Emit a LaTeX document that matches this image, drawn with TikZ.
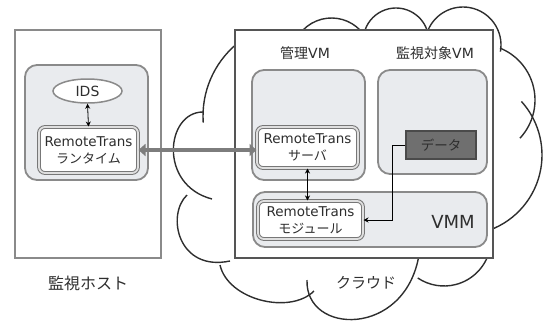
\documentclass[tikz,border=0pt]{standalone}
\usepackage{fontspec}
\setmainfont{DejaVu Sans}
\newfontfamily\jp{Noto Sans CJK JP}
\usetikzlibrary{arrows.meta,shapes.geometric,calc}
\definecolor{txt}{HTML}{2E2E2E}
\definecolor{cloudline}{HTML}{2E2E2E}
\definecolor{vmfill}{HTML}{E9EBEE}
\definecolor{vmline}{HTML}{8A8A8A}
\definecolor{modline}{HTML}{777777}
\definecolor{rectline}{HTML}{555555}
\definecolor{hostline}{HTML}{8A8A8A}
\definecolor{datafill}{HTML}{6F6F6F}
\definecolor{dataline}{HTML}{4A4A4A}
\definecolor{arrowgray}{HTML}{7D7D7D}
\newcommand\cbump[4]{\draw[cloudarc] (#1) ++(#2:#4) arc[start angle=#2, end angle=#3, radius=#4];}
\newcommand\jpbox[1]{{\jp\fontsize{13}{17}\selectfont #1}}
\begin{document}
\begin{tikzpicture}[x=1pt,y=-1pt,
  cloudarc/.style={draw=cloudline,line width=1.4pt},
  hostrect/.style={draw=hostline,line width=1.8pt,fill=white,inner sep=0pt},
  cloudrect/.style={draw=rectline,line width=2.4pt,fill=white,inner sep=0pt},
  vmbox/.style={draw=vmline,line width=1.8pt,fill=vmfill,rounded corners=12pt,inner sep=0pt},
  modbox/.style={draw=modline,line width=1pt,double=gray!25,double distance=1.8pt,fill=white,rounded corners=6pt,
    text=txt,align=center,inner sep=0pt,font=\fontsize{13.5}{17}\selectfont},
  idsnode/.style={ellipse,draw=vmline,line width=1.5pt,fill=white,inner sep=0pt,text=txt,font=\fontsize{14}{16}\selectfont},
  datanode/.style={draw=dataline,line width=1.2pt,fill=datafill,inner sep=0pt,text=txt,font=\jp\fontsize{13.5}{15}\selectfont},
  lbl/.style={text=txt,inner sep=0pt},
  dblarrow/.style={draw=black,line width=0.8pt,{Stealth[length=5pt,width=5pt]}-{Stealth[length=5pt,width=5pt]}},
  onearrow/.style={draw=black,line width=0.8pt,-{Stealth[length=5pt,width=5pt]}},
  bigarrow/.style={draw=arrowgray,line width=4.5pt,{Triangle[length=7pt,width=12pt]}-{Triangle[length=7pt,width=12pt]}}
]
\useasboundingbox (0,0) rectangle (543,325);

% cloud outline
\cbump{331.5,57.8}{-44}{-136}{39.8}
\cbump{396,40.8}{-19}{-161}{32.8}
\cbump{463,45}{10}{-157}{38}
\cbump{479,100}{43}{-68}{56}
\cbump{462,155}{70}{-42}{80}
\cbump{444,239}{15}{124}{47}
\cbump{297,116}{-130}{-184}{94}
\draw[cloudarc] (203,112) .. controls (166,112) and (158,185) .. (212,199);
\draw[cloudarc] (187,195) .. controls (166,215) and (178,272) .. (230,261);
\draw[cloudarc] (220,265) .. controls (228,300) and (290,315) .. (314,291);
\draw[cloudarc] (307,280) .. controls (305,335) and (405,338) .. (419,255);

% monitoring host
\node[hostrect,minimum width=146pt,minimum height=228pt] (host) at (88,144) {};
\node[vmbox,minimum width=123pt,minimum height=115pt] (hostinner) at (86.5,122.5) {};
\node[idsnode,minimum width=69pt,minimum height=24pt] (ids) at (87.5,91) {IDS};
\node[modbox,minimum width=99pt,minimum height=46pt] (runtime) at (88.5,150) {RemoteTrans\\\jpbox{ランタイム}};
\node[lbl,font=\jp\fontsize{16}{18}\selectfont] (hostlabel) at (88,283) {監視ホスト};

% cloud system
\node[cloudrect,minimum width=258pt,minimum height=228pt] (cloudbox) at (364,144) {};
\node[lbl,font=\fontsize{14}{16}\selectfont] (mgmtlabel) at (305,53) {{\jp 管理}VM};
\node[lbl,font=\fontsize{14}{16}\selectfont] (tgtlabel) at (435,53) {{\jp 監視対象}VM};
\node[vmbox,minimum width=113pt,minimum height=110pt] (mgmtvm) at (308.5,125) {};
\node[vmbox,minimum width=109pt,minimum height=104pt] (tgtvm) at (432.5,122) {};
\node[modbox,minimum width=101pt,minimum height=41pt] (server) at (307.5,147.5) {RemoteTrans\\\jpbox{サーバ}};
\node[datanode,minimum width=70pt,minimum height=28pt] (data) at (441,145) {データ};
\node[vmbox,minimum width=234pt,minimum height=55pt] (vmm) at (370,219.5) {};
\node[lbl,font=\fontsize{18}{20}\selectfont] (vmmlabel) at (453,222) {VMM};
\node[modbox,minimum width=105pt,minimum height=38pt] (module) at (310.5,220) {RemoteTrans\\\jpbox{モジュール}};
\node[lbl,font=\jp\fontsize{15}{17}\selectfont] (cloudlabel) at (366,283) {クラウド};

% connectors
\draw[dblarrow] (ids.south) -- (runtime.north);
\draw[dblarrow] (server.south) -- (server.south |- module.north);
\draw[onearrow] (data.west) -- ++(-13,0) |- (module.east);
\draw[bigarrow] (runtime.east) -- (runtime.east -| server.west);
\end{tikzpicture}
\end{document}
